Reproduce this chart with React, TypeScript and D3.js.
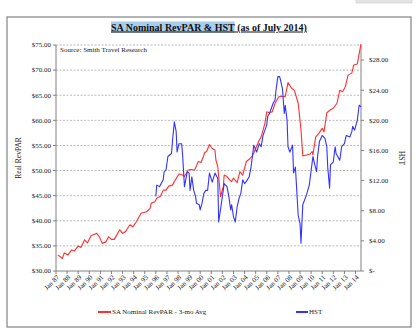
import React, { useLayoutEffect, useRef, useState } from 'react';
import * as d3 from 'd3';

const revparDates = ["1987-03","1987-08","1987-10","1988-02","1988-06","1988-09","1989-01","1989-04","1989-08","1989-11","1990-03","1990-09","1990-12","1991-03","1991-07","1991-10","1992-01","1992-04","1992-10","1993-01","1993-04","1993-09","1993-12","1994-04","1994-09","1995-03","1995-07","1995-08","1995-12","1996-02","1996-06","1996-09","1996-12","1997-03","1997-07","1997-10","1998-02","1998-06","1998-08","1998-12","1999-03","1999-07","1999-11","2000-02","2000-06","2000-08","2000-11","2001-02","2001-05","2001-06","2001-08","2001-11","2002-02","2002-03","2002-06","2002-09","2002-11","2003-01","2003-05","2003-08","2003-11","2004-03","2004-07","2004-10","2005-01","2005-05","2005-07","2005-11","2006-01","2006-04","2006-07","2006-10","2007-02","2007-05","2007-09","2007-12","2008-04","2008-07","2008-11","2009-02","2009-04","2009-08","2009-12","2010-02","2010-03","2010-06","2010-09","2011-01","2011-03","2011-06","2011-10","2012-01","2012-05","2012-08","2012-11","2013-02","2013-05","2013-09","2013-11","2014-03","2014-05","2014-07"];
const revparValues = [33.2,32.5,33.6,33.2,34.2,34.0,35.0,34.7,36.2,35.6,37.0,37.5,36.8,35.5,35.8,36.8,36.3,36.3,38.2,37.5,37.8,39.2,38.8,39.8,41.5,41.8,42.5,43.5,43.8,44.5,44.9,46.1,46.1,46.9,47.1,48.1,49.3,49.1,48.8,50.1,50.2,50.1,51.8,51.6,53.6,53.8,55.2,54.4,54.1,52.1,50.8,44.8,46.8,49.1,48.8,48.1,47.8,48.5,47.6,49.8,49.1,51.8,52.4,53.1,54.4,56.1,56.7,59.4,61.7,61.5,61.7,63.4,64.7,64.8,64.7,67.5,66.4,65.9,63.4,58.1,52.9,53.1,53.3,53.8,53.1,56.7,57.3,58.4,57.7,61.5,62.1,62.4,63.4,66.0,65.7,66.7,69.0,69.4,71.0,71.2,73.3,75.2];

const hstDates = ["1996-01","1996-02","1996-05","1996-09","1996-10","1996-12","1997-02","1997-06","1997-07","1997-09","1997-11","1997-12","1998-02","1998-05","1998-06","1998-08","1998-11","1999-01","1999-02","1999-04","1999-06","1999-08","1999-09","1999-12","2000-01","2000-03","2000-05","2000-07","2000-09","2000-11","2001-02","2001-05","2001-08","2001-09","2002-01","2002-03","2002-06","2002-08","2002-10","2002-11","2003-01","2003-03","2003-05","2003-07","2003-09","2003-11","2004-01","2004-03","2004-06","2004-08","2004-11","2005-02","2005-05","2005-07","2005-09","2005-11","2006-01","2006-02","2006-04","2006-08","2006-10","2006-11","2007-01","2007-03","2007-04","2007-06","2007-08","2007-09","2007-11","2007-12","2008-02","2008-05","2008-06","2008-08","2008-11","2009-01","2009-02","2009-04","2009-08","2009-11","2010-03","2010-05","2010-07","2010-08","2010-10","2011-01","2011-04","2011-06","2011-07","2011-09","2011-10","2012-01","2012-03","2012-04","2012-08","2012-10","2013-01","2013-03","2013-07","2013-09","2013-10","2013-12","2014-03","2014-05","2014-07"];
const hstValues = [9.9,11.4,11.2,12.1,13.2,13.4,15.2,15.6,17.2,19.8,18.5,15.8,16.9,16.9,15.4,11.2,13.2,13.0,10.7,12.5,10.7,9.9,9.0,8.8,8.1,9.0,10.3,10.7,10.7,13.0,11.8,13.0,12.3,6.5,9.9,11.6,11.2,9.9,8.1,8.8,7.2,6.5,8.5,9.6,10.3,12.1,11.6,11.9,12.5,13.8,16.7,15.8,16.9,16.5,18.0,18.7,19.4,20.5,20.9,22.3,22.7,24.0,25.8,25.8,25.3,24.2,20.9,22.0,20.0,16.5,15.8,16.7,13.0,13.8,7.4,6.3,3.7,8.8,10.1,11.4,15.2,14.1,13.2,15.2,17.2,18.0,17.6,16.5,13.8,11.0,14.1,14.5,16.5,15.6,14.7,16.5,16.9,18.0,17.8,18.5,19.2,18.7,20.0,22.0,21.8];

const leftTicks = [30, 35, 40, 45, 50, 55, 60, 65, 70, 75];
const rightTicks = [0, 4, 8, 12, 16, 20, 24, 28];
const xTickLabels = ["Jan 87","Jan 88","Jan 89","Jan 90","Jan 91","Jan 92","Jan 93","Jan 94","Jan 95","Jan 96","Jan 97","Jan 98","Jan 99","Jan 00","Jan 01","Jan 02","Jan 03","Jan 04","Jan 05","Jan 06","Jan 07","Jan 08","Jan 09","Jan 10","Jan 11","Jan 12","Jan 13","Jan 14"];

const W = 416, H = 331;
const L = 56, R = 361, T = 45, B = 271;
const FONT = "'Liberation Serif', 'DejaVu Serif', serif";
const RED = '#ff3030';
const BLUE = '#3333ff';
const GRID = '#a8a8a8';
const AXIS = '#808080';

const parseYM = d3.timeParse('%Y-%m');
const parseLbl = d3.timeParse('%b %y');

export default function App() {
  const x = d3.scaleTime().domain([parseYM('1987-01') as Date, parseYM('2014-07') as Date]).range([L, R]);
  const yL = d3.scaleLinear().domain([30, 75]).range([B, T]);
  const yR = d3.scaleLinear().domain([0, 30]).range([B, T]);

  const redData = revparDates.map((d, i) => ({ date: parseYM(d) as Date, v: revparValues[i] }));
  const blueData = hstDates.map((d, i) => ({ date: parseYM(d) as Date, v: hstValues[i] }));
  const redLine = d3.line<{ date: Date; v: number }>().x(d => x(d.date)).y(d => yL(d.v));
  const blueLine = d3.line<{ date: Date; v: number }>().x(d => x(d.date)).y(d => yR(d.v));

  const t1 = useRef<SVGTextElement>(null);
  const [w1, setW1] = useState(116);
  useLayoutEffect(() => {
    if (t1.current) setW1(t1.current.getComputedTextLength());
  }, []);

  const fmtL = (v: number) => '$' + v.toFixed(2);
  const fmtR = (v: number) => (v === 0 ? '$-' : '$' + v.toFixed(2));
  const TX = 111;

  return (
    <svg width={W} height={H} style={{ position: 'absolute', left: 0, top: 0, background: '#fff' }} fontFamily={FONT}>
      <rect x={356} y={-2} width={56} height={5} fill="#e4e4e4" stroke="#c8c8c8" strokeWidth={0.6} />
      <rect x={7} y={17} width={404} height={310} fill="#fff" stroke="#8c8c8c" strokeWidth={1.3} />
      {/* Title */}
      <rect x={TX} y={21.5} width={w1} height={11} fill="#a9cdea" />
      <text ref={t1} x={TX} y={30.5} fontSize={10} fontWeight="bold" textDecoration="underline" fill="#111">SA Nominal RevPAR &amp; HST</text>
      <text x={TX + w1} y={30.5} fontSize={10} fontWeight="bold" textDecoration="underline" fill="#111" xmlSpace="preserve">{' (as of July 2014)'}</text>

      {/* grid */}
      {leftTicks.filter(v => v > 30).map(v => (
        <line key={'g' + v} x1={L} x2={R} y1={yL(v)} y2={yL(v)} stroke={GRID} strokeWidth={0.8} strokeDasharray="2,1.5" />
      ))}

      {/* left axis */}
      <line x1={L} x2={L} y1={T} y2={B} stroke={AXIS} strokeWidth={1} />
      {leftTicks.map(v => (
        <g key={'l' + v}>
          <line x1={L - 3} x2={L} y1={yL(v)} y2={yL(v)} stroke={AXIS} />
          <text x={L - 5} y={yL(v)} dy="0.33em" textAnchor="end" fontSize={7} fill="#222">{fmtL(v)}</text>
        </g>
      ))}
      {/* right axis */}
      <line x1={R} x2={R} y1={T} y2={B} stroke={AXIS} strokeWidth={1} />
      {rightTicks.map(v => (
        <g key={'r' + v}>
          <line x1={R} x2={R + 3} y1={yR(v)} y2={yR(v)} stroke={AXIS} />
          <text x={R + 8} y={yR(v)} dy="0.33em" textAnchor="start" fontSize={7} fill="#222">{fmtR(v)}</text>
        </g>
      ))}
      {/* bottom axis */}
      <line x1={L} x2={R} y1={B} y2={B} stroke={AXIS} strokeWidth={1} />
      {xTickLabels.map(lbl => {
        const px = x(parseLbl(lbl) as Date);
        return (
          <g key={lbl}>
            <line x1={px} x2={px} y1={B} y2={B + 3} stroke={AXIS} />
            <text transform={`translate(${px + 2},${B + 5}) rotate(-45)`} textAnchor="end" dy="0.35em" fontSize={7} fill="#222">{lbl}</text>
          </g>
        );
      })}

      {/* axis titles */}
      <text transform={`translate(21,158) rotate(-90)`} textAnchor="middle" fontSize={7.5} fill="#222">Real RevPAR</text>
      <text transform={`translate(399,158) rotate(90)`} textAnchor="middle" fontSize={7.5} fill="#222">HST</text>

      <text x={60} y={52} fontSize={7} fill="#222">Source: Smith Travel Research</text>

      {/* series */}
      <path d={redLine(redData) || ''} fill="none" stroke={RED} strokeWidth={1.1} strokeLinejoin="round" />
      <path d={blueLine(blueData) || ''} fill="none" stroke={BLUE} strokeWidth={1.1} strokeLinejoin="round" />

      {/* legend */}
      <line x1={98} x2={111} y1={312} y2={312} stroke={RED} strokeWidth={2} />
      <text x={112} y={312} dy="0.33em" fontSize={7} fill="#222">SA Nominal RevPAR - 3-mo Avg</text>
      <line x1={296} x2={308} y1={312} y2={312} stroke={BLUE} strokeWidth={2} />
      <text x={309} y={312} dy="0.33em" fontSize={7} fill="#222">HST</text>
    </svg>
  );
}
